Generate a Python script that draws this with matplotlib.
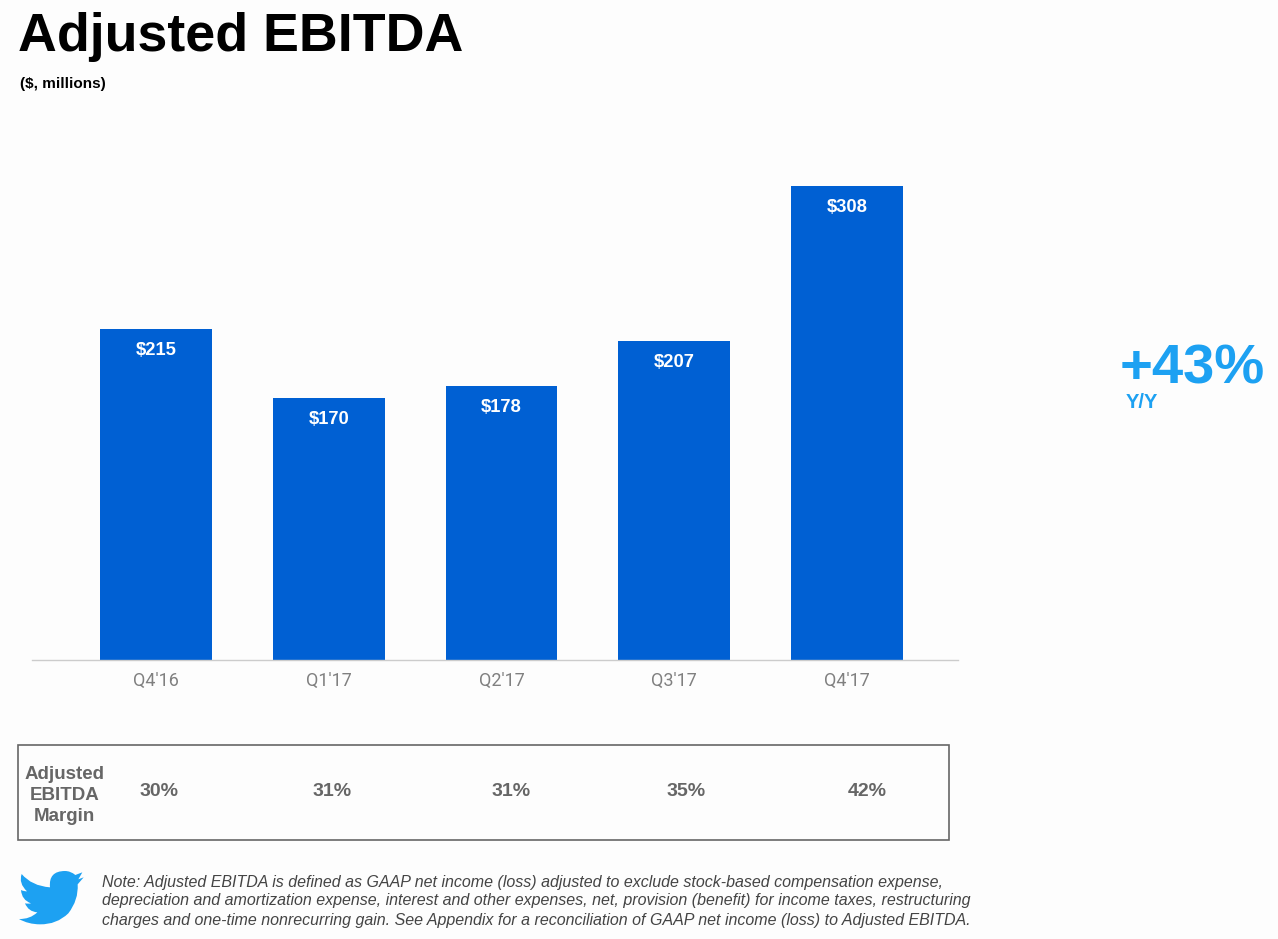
import matplotlib
matplotlib.use('Agg')
import matplotlib.pyplot as plt
from matplotlib.patches import Rectangle, PathPatch
from matplotlib.path import Path

plt.rcParams['font.family'] = ['Liberation Sans', 'DejaVu Sans']

quarters = ["Q4'16", "Q1'17", "Q2'17", "Q3'17", "Q4'17"]
ebitda = [215, 170, 178, 207, 308]
margins = ['30%', '31%', '31%', '35%', '42%']
margin_x = [159, 332, 511, 686, 867]
note = ['Note: Adjusted EBITDA is defined as GAAP net income (loss) adjusted to exclude stock-based compensation expense,',
        'depreciation and amortization expense, interest and other expenses, net, provision (benefit) for income taxes, restructuring',
        'charges and one-time nonrecurring gain. See Appendix for a reconciliation of GAAP net income (loss) to Adjusted EBITDA.']

W, H = 1278, 939
BLUE = '#0060d3'
TW = '#1da1f2'
GREY = '#666666'

fig = plt.figure(figsize=(W / 100, H / 100), dpi=100, facecolor='#fdfdfd')

# overlay in pixel coords
bg = fig.add_axes([0, 0, 1, 1])
bg.set_xlim(0, W)
bg.set_ylim(H, 0)
bg.axis('off')

# bar axes: x spans 32-958 px, baseline at y=660, y=0 to 308 spans 660-186
ax = fig.add_axes([32 / W, 1 - 660 / H, 926 / W, 474 / H])
ax.patch.set_alpha(0)
ax.bar(range(5), ebitda, width=112 / 173, color=BLUE)
ax.set_xlim(-(156 - 32) / 173, 4 + (958 - 847) / 173)
ax.set_ylim(0, 308)
for s in ['top', 'left', 'right']:
    ax.spines[s].set_visible(False)
ax.spines['bottom'].set_color('#cccccc')
ax.spines['bottom'].set_linewidth(1)
ax.set_yticks([])
ax.set_xticks(range(5))
ax.set_xticklabels(quarters, fontsize=13, color='#808080', family=['Roboto', 'DejaVu Sans'])
ax.tick_params(axis='x', length=0, pad=8.5)
for i, v in enumerate(ebitda):
    ax.annotate('$%d' % v, (i, v), xytext=(0, -21), textcoords='offset pixels',
                ha='center', va='center', color='white', fontsize=13.2, fontweight='bold')

bg.text(18, 37, 'Adjusted EBITDA', fontsize=38.7, fontweight='bold', va='center', color='black')
bg.text(20, 84, '($, millions)', fontsize=11, fontweight='bold', va='center', color='black')

bg.text(1120, 369, '+43%', fontsize=40.5, fontweight='bold', va='center', color=TW)
bg.text(1126, 402, 'Y/Y', fontsize=14.5, fontweight='bold', va='center', color=TW)

bg.add_patch(Rectangle((18, 745), 931, 95, fill=False, ec='#666666', lw=1.2))
for y, word in zip([779, 800, 821], ['Adjusted', 'EBITDA', 'Margin']):
    bg.text(64.5, y, word, fontsize=13.5, fontweight='bold', color=GREY, ha='center', va='baseline')
for x, m in zip(margin_x, margins):
    bg.text(x, 791, m, fontsize=14, fontweight='bold', color=GREY, ha='center', va='center')

for y, line in zip([882, 901, 920], note):
    bg.text(102, y, line, fontsize=11.55, style='italic', color='#444444', va='center')

L, Q = Path.LINETO, Path.CURVE3
bird = [(Path.MOVETO, (195, 63)),
        (Q, (212, 63)), (Q, (226, 75)),
        (L, (247, 67)), (L, (235, 88)), (L, (251, 82)), (L, (233, 103)),
        (Q, (236, 150)), (Q, (205, 190)),
        (Q, (170, 224)), (Q, (120, 223)),
        (Q, (85, 223)), (Q, (57, 207)),
        (Q, (90, 208)), (Q, (112, 187)),
        (Q, (85, 185)), (Q, (75, 160)),
        (Q, (85, 162)), (Q, (93, 160)),
        (Q, (65, 150)), (Q, (63, 120)),
        (Q, (70, 124)), (Q, (81, 124)),
        (Q, (55, 100)), (Q, (65, 72)),
        (Q, (95, 108)), (Q, (150, 112)),
        (Q, (145, 63)), (Q, (195, 63)),
        (Path.CLOSEPOLY, (195, 63))]
codes = [c for c, p in bird]
verts = [(p[0] / 3, 850 + p[1] / 3) for c, p in bird]
bg.add_patch(PathPatch(Path(verts, codes), fc=TW, ec='none'))

fig.savefig('out.png', dpi=100, facecolor=fig.get_facecolor())
